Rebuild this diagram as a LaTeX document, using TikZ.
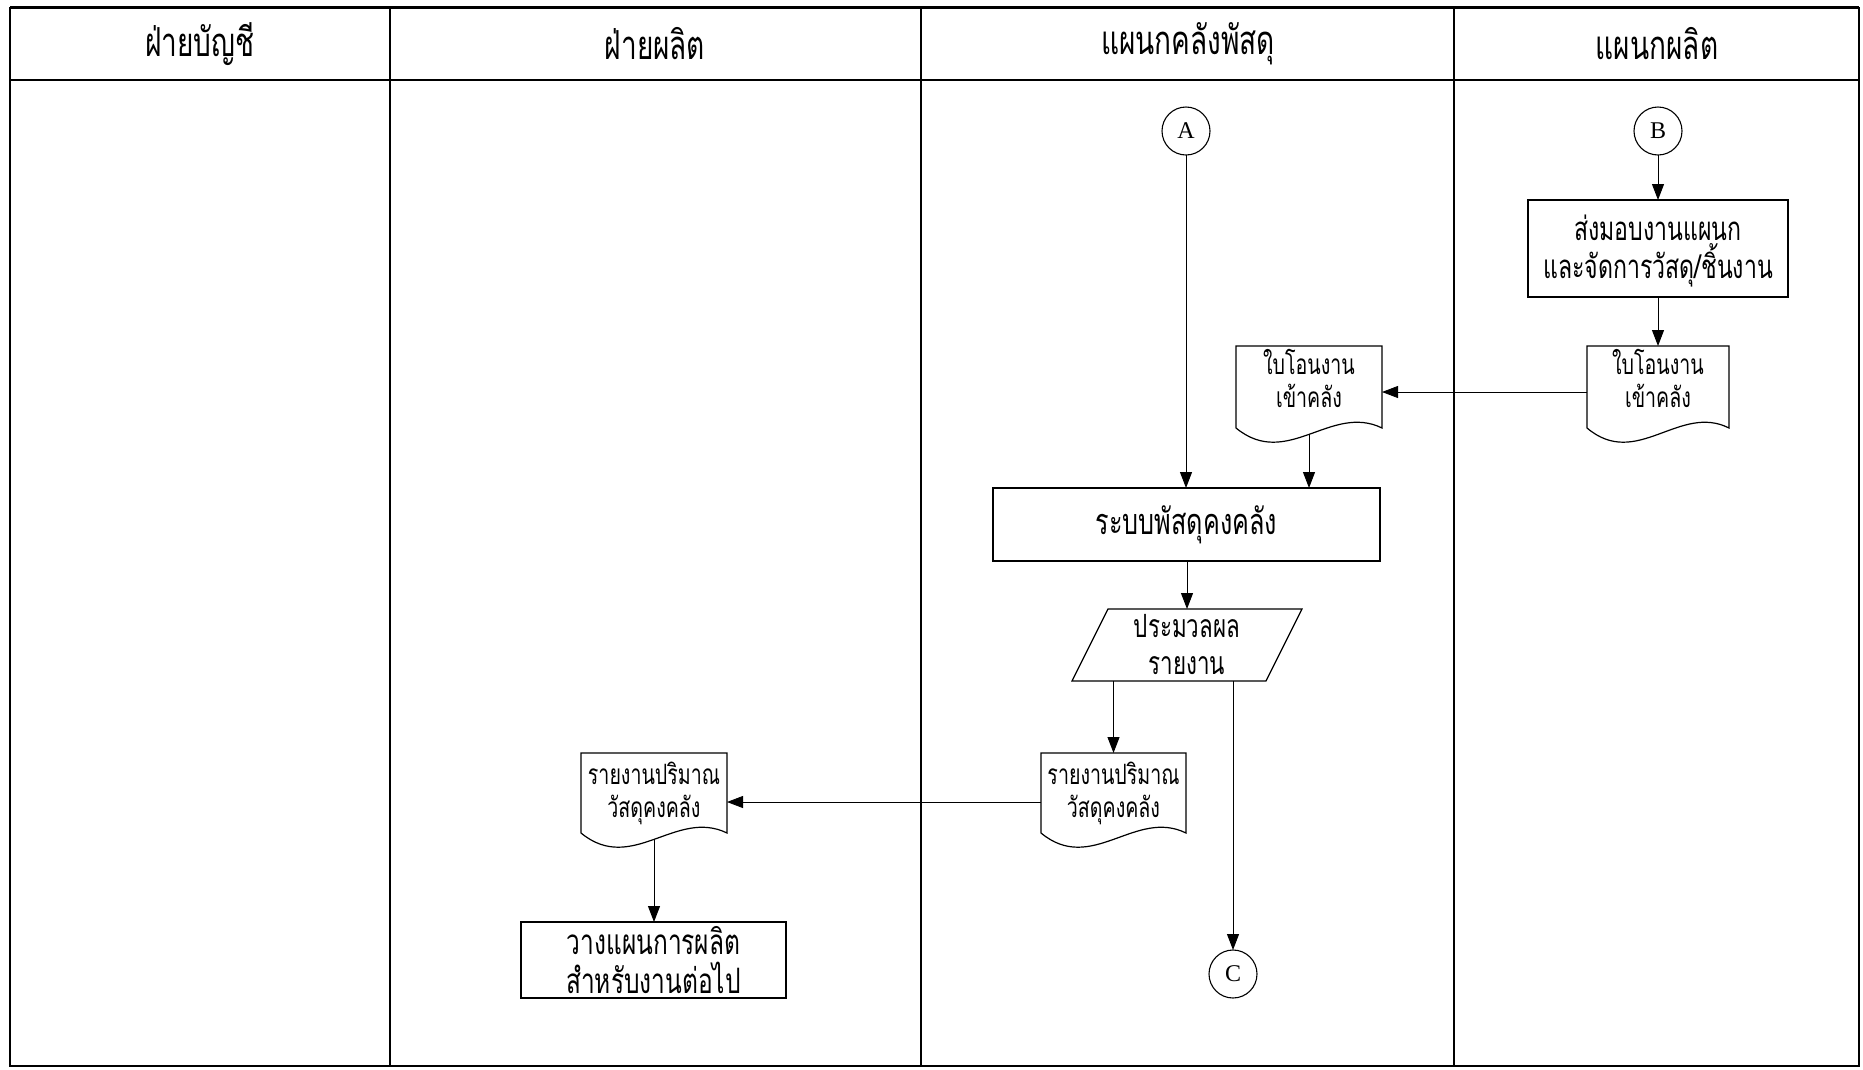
\documentclass[tikz,border=0pt]{standalone}
\usepackage{fontspec}
\newfontfamily\thai[Script=Thai,FakeStretch=0.7]{Loma}
\newfontfamily\latinserif{Liberation Serif}
\usetikzlibrary{arrows.meta,calc}

% wavy-bottomed document outline around a named node
\newcommand\docoutline[1]{%
  \draw[line width=1.2pt] (#1.south west) -- (#1.north west) -- (#1.north east) -- (#1.south east)
    .. controls ($(#1.south east)!0.35!(#1.south west)+(0,-25)$)
           and ($(#1.south east)!0.65!(#1.south west)+(0,42)$) .. (#1.south west);
}

\begin{document}
\begin{tikzpicture}[x=1pt,y=-1pt,
  every node/.style={inner sep=0pt, outer sep=0pt},
  head/.style={font=\thai\fontsize{40}{44}\selectfont},
  procbox/.style={draw, line width=1.2pt, align=center, font=\thai\fontsize{36}{40}\selectfont},
  docbox/.style={align=center, minimum height=82pt, font=\thai\fontsize{28}{33}\selectfont},
  connector/.style={draw, circle, line width=1.1pt, minimum size=48pt, font=\latinserif\fontsize{24}{26}\selectfont},
  flow/.style={line width=1pt, -{Triangle[length=16pt,width=12pt]}},
  ]
\useasboundingbox (0,0) rectangle (1863,1069);
\fill[white] (0,0) rectangle (1863,1069);

% swimlane frame
\draw[line width=1.5pt] (10,7) -- (10,1066) -- (1859,1066) -- (1859,7);
\draw[line width=3pt] (10,7) -- (1859,7);
\draw[line width=2.6pt] (10,80) -- (1859,80);
\foreach \xx in {390,921,1454} \draw[line width=1.6pt] (\xx,7) -- (\xx,1066);

% lane titles
\node[head] (h1) at (200,44) {ฝ่ายบัญชี};
\node[head] (h2) at (655,44) {ฝ่ายผลิต};
\node[head] (h3) at (1188,44) {แผนกคลังพัสดุ};
\node[head] (h4) at (1657,44) {แผนกผลิต};

% connectors (off-page references)
\node[connector] (A) at (1186,131) {A};
\node[connector] (B) at (1658,131) {B};
\node[connector] (C) at (1233,974) {C};

% production department
\node[procbox, minimum width=260pt, minimum height=97pt, text depth=4pt, font=\thai\fontsize{33}{38}\selectfont] (hand) at (1658,248.5)
  {ส่งมอบงานแผนก\\และจัดการวัสดุ/ชิ้นงาน};
\node[docbox, minimum width=142pt, text depth=18pt] (dR) at (1658,387) {ใบโอนงาน\\เข้าคลัง};
\docoutline{dR}

% warehouse
\node[docbox, minimum width=146pt, text depth=18pt] (dL) at (1309,387) {ใบโอนงาน\\เข้าคลัง};
\docoutline{dL}
\node[procbox, minimum width=387pt, minimum height=73pt] (sys) at (1186.5,524.5) {ระบบพัสดุคงคลัง};
\node[align=center, minimum width=194pt, minimum height=72pt, font=\thai\fontsize{32}{37}\selectfont] (par) at (1187,645)
  {ประมวลผล\\รายงาน};
\draw[line width=1.2pt] ([xshift=18pt]par.north west) -- ([xshift=18pt]par.north east)
  -- ([xshift=-18pt]par.south east) -- ([xshift=-18pt]par.south west) -- cycle;
\node[docbox, minimum width=145pt, minimum height=80pt] (dM) at (1113.5,793) {รายงานปริมาณ\\วัสดุคงคลัง};
\docoutline{dM}

% production planning
\node[docbox, minimum width=146pt, minimum height=80pt] (dP) at (654,793) {รายงานปริมาณ\\วัสดุคงคลัง};
\docoutline{dP}
\node[procbox, minimum width=265pt, minimum height=76pt, font=\thai\fontsize{35}{39}\selectfont] (plan) at (653.5,960)
  {วางแผนการผลิต\\สำหรับงานต่อไป};

% flows
\draw[flow] (B) -- (hand);
\draw[flow] (hand) -- (dR);
\draw[flow, line width=0.8pt] ([yshift=-5pt]dR.west) -- ([yshift=-5pt]dL.east);
\draw[flow] (A) -- (A |- sys.north);
\coordinate (dLfoot) at ($(dL.south)+(0,6)$);
\draw[flow] (dLfoot) -- (dLfoot |- sys.north);
\draw[flow] (sys.south -| par.north) -- (par.north);
\draw[flow] (dM.north |- par.south) -- (dM.north);
\draw[flow] (C.north |- par.south) -- (C.north);
\draw[flow, line width=0.8pt] ([yshift=-9pt]dM.west) -- ([yshift=-9pt]dP.east);
\coordinate (dPfoot) at ($(dP.south)+(0,6)$);
\draw[flow] (dPfoot) -- (dPfoot |- plan.north);
\end{tikzpicture}
\end{document}
